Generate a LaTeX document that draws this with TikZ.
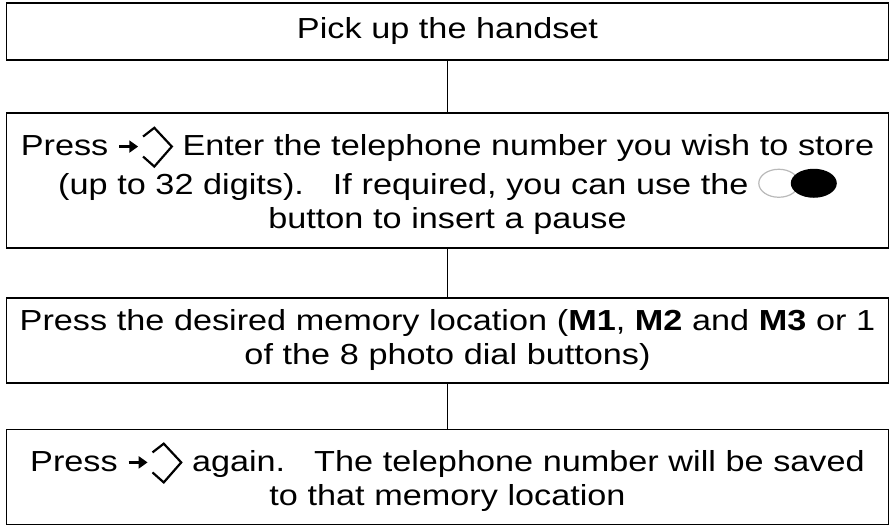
\documentclass[tikz,border=0pt]{standalone}
\usepackage{fontspec}
\setmainfont{Liberation Sans}[FakeStretch=1.18]
\newcommand{\entericon}{\tikz[baseline=-9pt,x=1.25pt,y=1.25pt,line width=2.8pt,line join=miter]{\draw (0,0)--(11,0); \fill (8,5)--(15,0)--(8,-5)--cycle; \draw[line width=2.2pt] (19,8)--(28,15)--(42,0)--(28,-16)--(19,-8);}}
\newcommand{\pauseicon}{\tikz[baseline=-11pt,x=1pt,y=1pt]{\draw[gray!55,line width=1.2pt] (20,0) ellipse (20 and 14); \fill[black] (55,0) ellipse (23 and 14.5);}}
\begin{document}
\begin{tikzpicture}[x=1pt,y=-1pt,
  stepbox/.style={draw,line width=1.6pt,minimum width=882pt,inner sep=0pt,align=center,font=\fontsize{29}{34}\selectfont,text width=875pt}]
\useasboundingbox (0,0) rectangle (895,529);
\node[stepbox,minimum height=57pt] (a) at (447.5,31.5) {Pick up the handset};
\node[stepbox,minimum height=135pt] (b) at (447.5,180.5) {Press \entericon\ Enter the telephone number you wish to store\\(up to 32 digits).\ \ \ If required, you can use the \pauseicon\\button to insert a pause};
\node[stepbox,minimum height=85pt] (c) at (447.5,340.5) {Press the desired memory location (\textbf{M1}, \textbf{M2} and \textbf{M3} or 1\\of the 8 photo dial buttons)};
\node[stepbox,minimum height=95pt] (d) at (447.5,477) {Press \entericon\ again.\ \ \ The telephone number will be saved\\to that memory location};
\draw[line width=0.8pt] (a) -- (b);
\draw[line width=0.8pt] (b) -- (c);
\draw[line width=0.8pt] (c) -- (d);
\end{tikzpicture}
\end{document}
